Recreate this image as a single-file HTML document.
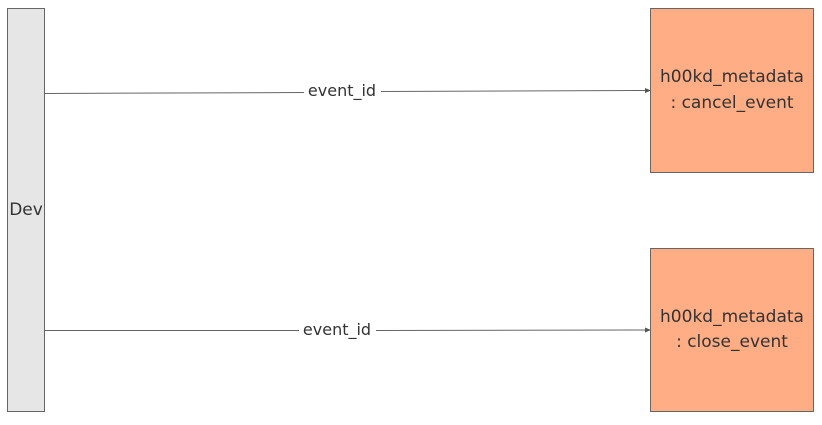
<!DOCTYPE html>
<html><head><meta charset="utf-8"><style>
body{margin:0;background:#fff;}
</style></head><body>
<svg width="822" height="420" xmlns="http://www.w3.org/2000/svg" font-family="'DejaVu Sans','Liberation Sans',sans-serif" fill="#333">
<defs><marker id="a" markerWidth="6" markerHeight="6" refX="5" refY="3" orient="auto" markerUnits="userSpaceOnUse"><path d="M0,0.5 L6,3 L0,5.5 z" fill="#555"/></marker></defs>
<rect x="7.5" y="8.5" width="37" height="403" fill="#e6e6e6" stroke="#666"/>
<text x="26" y="215" font-size="17" text-anchor="middle">Dev</text>
<rect x="650.5" y="8.5" width="163" height="164" fill="#ffad85" stroke="#666"/>
<text x="732" y="82" font-size="17" text-anchor="middle">h00kd_metadata</text>
<text x="732" y="108" font-size="17" text-anchor="middle">: cancel_event</text>
<rect x="650.5" y="248.5" width="163" height="163" fill="#ffad85" stroke="#666"/>
<text x="732" y="322" font-size="17" text-anchor="middle">h00kd_metadata</text>
<text x="732" y="347" font-size="17" text-anchor="middle">: close_event</text>
<path d="M45,93.5 L304,92.5 M381,91.5 L650,90.5" stroke="#666" fill="none" marker-end="url(#a)"/>
<text x="342" y="96" font-size="16" text-anchor="middle">event_id</text>
<path d="M45,330.5 L299,330.5 M376,330.5 L650,330" stroke="#666" fill="none" marker-end="url(#a)"/>
<text x="337" y="335" font-size="16" text-anchor="middle">event_id</text>
</svg>
</body></html>
